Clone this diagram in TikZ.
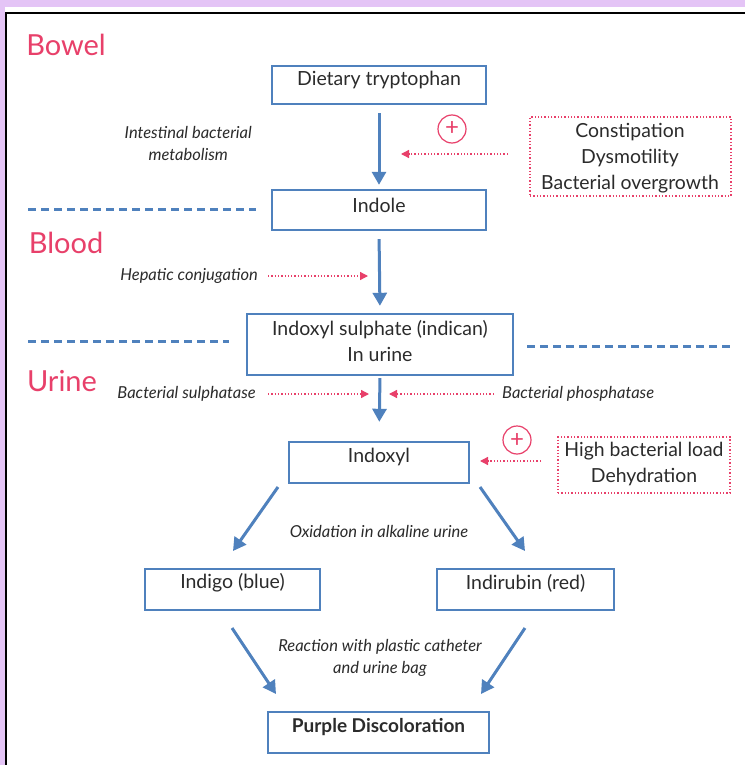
\documentclass[tikz,border=0pt]{standalone}
\usepackage{fontspec}
\setmainfont{Lato}
\usetikzlibrary{arrows.meta}
\definecolor{bgpurple}{HTML}{E4C4F6}
\definecolor{boxblue}{HTML}{4F81BD}
\definecolor{pinkred}{HTML}{E8406A}
\definecolor{txt}{HTML}{2B2B2B}
\tikzset{
  flowbox/.style={draw=boxblue,line width=2.4pt,fill=white,inner sep=0pt},
  boxtext/.style={text=txt,font=\fontsize{19.5}{22}\selectfont,align=center,inner sep=0pt,anchor=center},
  note/.style={text=txt,font=\fontsize{16.5}{22}\selectfont\itshape,inner sep=0pt,align=center},
  region/.style={text=pinkred,font=\fontsize{29}{30}\selectfont,inner sep=0pt},
  flowarrow/.style={draw=boxblue,line width=3pt,-{Triangle[length=13pt,width=14pt]}},
  infl/.style={draw=pinkred,line width=1.3pt,dotted,-{Triangle[length=8pt,width=8pt]}},
  riskbox/.style={draw=pinkred,line width=1.3pt,dotted,inner sep=0pt},
  risktext/.style={text=txt,font=\fontsize{19.4}{26}\selectfont,align=center,inner sep=0pt},
  sepline/.style={draw=boxblue,line width=3pt,dash pattern=on 8pt off 5pt},
  plus/.style={draw=pinkred,line width=1.2pt,circle,minimum size=28pt,inner sep=0pt,text=pinkred,font=\fontsize{24}{24}\selectfont}
}
\begin{document}
\begin{tikzpicture}[x=1pt,y=-1pt]
\useasboundingbox (0,0) rectangle (745,765);
\fill[bgpurple] (0,0) rectangle (745,765);
\fill[white] (5,7) rectangle (745,765);
\fill[white] (7,13) rectangle (745,765);
\draw[black,line width=2.5pt] (6,765) -- (6,13) -- (745,13);

% region labels
\node[region] (bowel) at (66,45) {Bowel};
\node[region] (blood) at (66,243) {Blood};
\node[region] (urine) at (62,381) {Urine};

% separators
\coordinate (s1a) at (28,209); \coordinate (s1b) at (256,209);
\coordinate (s2a) at (28,341); \coordinate (s2b) at (229,341);
\coordinate (s3a) at (527,346); \coordinate (s3b) at (730,346);
\draw[sepline] (s1a) -- (s1b);
\draw[sepline] (s2a) -- (s2b);
\draw[sepline] (s3a) -- (s3b);

% boxes
\node[flowbox,minimum width=214pt,minimum height=38pt] (diet) at (379,85) {};
\node[boxtext] (dietT) at (379,80) {Dietary tryptophan};
\node[flowbox,minimum width=214pt,minimum height=40pt] (indole) at (379,210) {};
\node[boxtext] (indoleT) at (379,205) {Indole};
\node[flowbox,minimum width=266pt,minimum height=61pt] (indican) at (380,344.5) {};
\node[boxtext] (indicanT) at (380,341) {Indoxyl sulphate (indican)\\[4pt]In urine};
\node[flowbox,minimum width=180pt,minimum height=41pt] (indoxyl) at (379,462.5) {};
\node[boxtext] (indoxylT) at (379,457) {Indoxyl};
\node[flowbox,minimum width=175pt,minimum height=41pt] (indigo) at (232.5,589.5) {};
\node[boxtext] (indigoT) at (232.5,583) {Indigo (blue)};
\node[flowbox,minimum width=177pt,minimum height=41pt] (indirubin) at (525.5,589.5) {};
\node[boxtext] (indirubinT) at (525.5,583) {Indirubin (red)};
\node[flowbox,minimum width=221pt,minimum height=41pt] (purple) at (378.5,732.5) {};
\node[boxtext,font=\fontsize{19}{22}\selectfont\bfseries] (purpleT) at (378.5,727) {Purple Discoloration};

% vertical arrows
\draw[flowarrow,shorten <=8pt,shorten >=4pt] (diet.south) -- (indole.north);
\draw[flowarrow,shorten <=8pt,shorten >=7pt] (indole.south) -- (indican.north);
\draw[flowarrow,shorten <=2pt,shorten >=19pt] (indican.south) -- (indoxyl.north);

% diagonal arrows
\coordinate (d1a) at (278,487); \coordinate (d1b) at (233,551);
\coordinate (d2a) at (480,487); \coordinate (d2b) at (525,551);
\coordinate (e1a) at (232,628); \coordinate (e1b) at (276,694);
\coordinate (e2a) at (525,628); \coordinate (e2b) at (481,694);
\draw[flowarrow] (d1a) -- (d1b);
\draw[flowarrow] (d2a) -- (d2b);
\draw[flowarrow] (e1a) -- (e1b);
\draw[flowarrow] (e2a) -- (e2b);

% notes
\node[note,anchor=east] (intest) at (252,143) {Intestinal bacterial\\metabolism};
\node[note,anchor=east] (hepatic) at (258,276) {Hepatic conjugation};
\node[note,anchor=east] (sulph) at (256,394) {Bacterial sulphatase};
\node[note,anchor=west] (phos) at (502,394) {Bacterial phosphatase};
\node[note] (oxid) at (379,531) {Oxidation in alkaline urine};
\node[note] (react) at (380,658) {Reaction with plastic catheter\\and urine bag};

% risk boxes
\node[riskbox,minimum width=201pt,minimum height=79pt] (risk1) at (630.5,156.5) {};
\node[risktext] (risk1T) at (630,158) {Constipation\\Dysmotility\\Bacterial overgrowth};
\node[riskbox,minimum width=172pt,minimum height=56pt] (risk2) at (644,465) {};
\node[risktext] (risk2T) at (644,464.5) {High bacterial load\\Dehydration};

% plus signs
\node[plus] (plus1) at (452,129) {+};
\node[plus] (plus2) at (517,440) {+};

% influence arrows
\coordinate (i1a) at (508,154); \coordinate (i1b) at (401,154);
\coordinate (i2a) at (268,276); \coordinate (i2b) at (368,276);
\coordinate (i3a) at (268,394); \coordinate (i3b) at (369,394);
\coordinate (i4a) at (494,394); \coordinate (i4b) at (389,394);
\coordinate (i5a) at (541,461); \coordinate (i5b) at (480,461);
\draw[infl] (i1a) -- (i1b);
\draw[infl] (i2a) -- (i2b);
\draw[infl] (i3a) -- (i3b);
\draw[infl] (i4a) -- (i4b);
\draw[infl] (i5a) -- (i5b);
\end{tikzpicture}
\end{document}
